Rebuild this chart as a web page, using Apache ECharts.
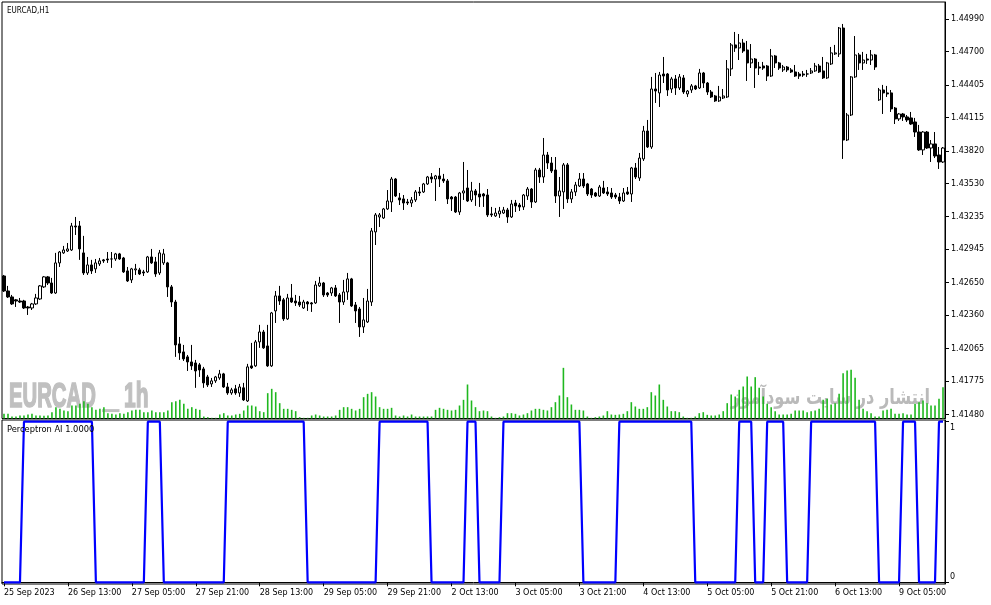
<!DOCTYPE html>
<html>
<head>
<meta charset="utf-8">
<script src="https://cdn.jsdelivr.net/npm/echarts@6.0.0/dist/echarts.min.js"></script>
<style>
html,body{margin:0;padding:0;background:#fff;}
#chart{width:991px;height:605px;}
</style>
</head>
<body>
<div id="chart"></div>
<script>
const symbolTitle = 'EURCAD,H1';
const indicatorTitle = 'Perceptron AI 1.0000';
const priceTicks = [1.41480,1.41775,1.42065,1.42360,1.42650,1.42945,1.43235,1.43530,1.43820,1.44115,1.44405,1.44700,1.44990];
const xTickLabels = ['25 Sep 2023','26 Sep 13:00','27 Sep 05:00','27 Sep 21:00','28 Sep 13:00','29 Sep 05:00','29 Sep 21:00','2 Oct 13:00','3 Oct 05:00','3 Oct 21:00','4 Oct 13:00','5 Oct 05:00','5 Oct 21:00','6 Oct 13:00','9 Oct 05:00'];

const open = [
1.42709,1.42576,1.42523,1.42497,1.42487,1.42487,1.42434,1.42425,1.42461,1.42505,
1.42612,1.42701,1.42647,1.42558,1.42825,1.42914,1.42931,1.42940,1.43153,1.43153,
1.42914,1.42736,1.42807,1.42772,1.42816,1.42852,1.42860,1.42860,1.42860,1.42905,
1.42869,1.42754,1.42674,1.42763,1.42763,1.42745,1.42745,1.42878,1.42834,1.42736,
1.42825,1.42825,1.42612,1.42478,1.42106,1.42035,1.41991,1.41946,1.41937,1.41920,
1.41884,1.41813,1.41751,1.41778,1.41804,1.41840,1.41724,1.41671,1.41707,1.41671,
1.41716,1.41600,1.41911,1.41911,1.42124,1.42212,1.42088,1.41911,1.42399,1.42532,
1.42497,1.42328,1.42514,1.42487,1.42478,1.42425,1.42478,1.42470,1.42470,1.42621,
1.42647,1.42558,1.42558,1.42603,1.42541,1.42478,1.42567,1.42683,1.42452,1.42416,
1.42257,1.42301,1.42478,1.43100,1.43233,1.43224,1.43304,1.43366,1.43570,1.43402,
1.43393,1.43366,1.43357,1.43384,1.43455,1.43455,1.43526,1.43588,1.43570,1.43597,
1.43570,1.43553,1.43410,1.43410,1.43277,1.43446,1.43490,1.43384,1.43464,1.43437,
1.43437,1.43428,1.43260,1.43242,1.43260,1.43268,1.43295,1.43233,1.43357,1.43339,
1.43322,1.43419,1.43481,1.43366,1.43650,1.43588,1.43783,1.43712,1.43650,1.43419,
1.43455,1.43695,1.43393,1.43455,1.43508,1.43570,1.43526,1.43481,1.43446,1.43419,
1.43490,1.43455,1.43446,1.43428,1.43410,1.43375,1.43455,1.43437,1.43668,1.43579,
1.43748,1.43996,1.43854,1.44369,1.44334,1.44502,1.44502,1.44369,1.44458,1.44378,
1.44467,1.44325,1.44360,1.44396,1.44378,1.44511,1.44422,1.44342,1.44307,1.44263,
1.44289,1.44298,1.44547,1.44760,1.44733,1.44777,1.44715,1.44600,1.44635,1.44564,
1.44573,1.44573,1.44484,1.44662,1.44600,1.44538,1.44564,1.44538,1.44520,1.44502,
1.44502,1.44502,1.44511,1.44529,1.44573,1.44529,1.44467,1.44591,1.44680,1.44680,
1.44910,1.43916,1.44138,1.44476,1.44671,1.44600,1.44635,1.44626,1.44671,1.44272,
1.44360,1.44334,1.44334,1.44200,1.44103,1.44147,1.44121,1.44112,1.44076,1.43987,
1.43828,1.43987,1.43845,1.43881,1.43783,1.43721];

const close = [
1.42576,1.42523,1.42461,1.42487,1.42478,1.42425,1.42425,1.42461,1.42514,1.42621,
1.42701,1.42647,1.42558,1.42825,1.42922,1.42940,1.42949,1.43153,1.43144,1.42949,
1.42736,1.42807,1.42754,1.42825,1.42843,1.42843,1.42852,1.42860,1.42905,1.42860,
1.42745,1.42665,1.42772,1.42772,1.42727,1.42736,1.42878,1.42825,1.42727,1.42914,
1.42905,1.42612,1.42478,1.42097,1.42026,1.41973,1.41946,1.41911,1.41866,1.41875,
1.41760,1.41742,1.41778,1.41813,1.41840,1.41724,1.41671,1.41698,1.41671,1.41724,
1.41609,1.41902,1.41893,1.42124,1.42212,1.42071,1.41911,1.42381,1.42532,1.42487,
1.42328,1.42514,1.42478,1.42470,1.42452,1.42478,1.42461,1.42461,1.42629,1.42647,
1.42541,1.42541,1.42603,1.42532,1.42478,1.42567,1.42683,1.42443,1.42399,1.42257,
1.42319,1.42487,1.43109,1.43251,1.43251,1.43304,1.43375,1.43570,1.43419,1.43384,
1.43357,1.43357,1.43384,1.43455,1.43446,1.43526,1.43588,1.43570,1.43597,1.43570,
1.43553,1.43393,1.43393,1.43277,1.43446,1.43464,1.43375,1.43464,1.43428,1.43410,
1.43419,1.43251,1.43251,1.43268,1.43286,1.43295,1.43233,1.43348,1.43331,1.43322,
1.43428,1.43481,1.43366,1.43650,1.43588,1.43783,1.43712,1.43641,1.43419,1.43464,
1.43695,1.43393,1.43455,1.43517,1.43570,1.43508,1.43437,1.43428,1.43419,1.43499,
1.43446,1.43437,1.43410,1.43410,1.43375,1.43446,1.43437,1.43668,1.43588,1.43756,
1.43996,1.43854,1.44369,1.44351,1.44493,1.44484,1.44360,1.44458,1.44378,1.44476,
1.44342,1.44351,1.44396,1.44369,1.44511,1.44422,1.44342,1.44298,1.44263,1.44298,
1.44307,1.44547,1.44760,1.44733,1.44777,1.44706,1.44600,1.44635,1.44555,1.44555,
1.44555,1.44484,1.44662,1.44600,1.44555,1.44564,1.44538,1.44520,1.44484,1.44484,
1.44493,1.44502,1.44529,1.44573,1.44520,1.44467,1.44600,1.44689,1.44689,1.44910,
1.43916,1.44138,1.44476,1.44671,1.44600,1.44626,1.44626,1.44671,1.44564,1.44360,
1.44334,1.44325,1.44192,1.44103,1.44147,1.44121,1.44094,1.44058,1.43987,1.43828,
1.43987,1.43845,1.43881,1.43774,1.43721,1.43845];

const high = [
1.42718,1.42621,1.42541,1.42505,1.42514,1.42497,1.42443,1.42470,1.42550,1.42629,
1.42709,1.42709,1.42692,1.42914,1.42931,1.42976,1.43002,1.43180,1.43233,1.43197,
1.43065,1.42878,1.42852,1.42860,1.42869,1.42860,1.42922,1.42922,1.42914,1.42914,
1.42878,1.42789,1.42781,1.42816,1.42781,1.42763,1.42887,1.42949,1.42878,1.42940,
1.42949,1.42834,1.42629,1.42497,1.42168,1.42097,1.42008,1.42097,1.41964,1.41937,
1.41902,1.41831,1.41804,1.41822,1.41875,1.41849,1.41760,1.41716,1.41742,1.41751,
1.41760,1.41929,1.42115,1.42141,1.42275,1.42230,1.42275,1.42390,1.42576,1.42621,
1.42514,1.42550,1.42638,1.42541,1.42532,1.42497,1.42487,1.42478,1.42665,1.42701,
1.42656,1.42567,1.42612,1.42629,1.42558,1.42674,1.42736,1.42692,1.42478,1.42434,
1.42514,1.42594,1.43135,1.43268,1.43268,1.43313,1.43472,1.43588,1.43579,1.43446,
1.43428,1.43393,1.43410,1.43472,1.43499,1.43535,1.43597,1.43623,1.43606,1.43668,
1.43615,1.43570,1.43419,1.43419,1.43455,1.43721,1.43650,1.43544,1.43481,1.43535,
1.43446,1.43481,1.43322,1.43313,1.43322,1.43322,1.43313,1.43384,1.43384,1.43357,
1.43437,1.43499,1.43490,1.43668,1.43668,1.43934,1.43810,1.43765,1.43765,1.43588,
1.43712,1.43712,1.43481,1.43544,1.43623,1.43623,1.43535,1.43490,1.43455,1.43517,
1.43553,1.43499,1.43490,1.43446,1.43446,1.43490,1.43499,1.43677,1.43712,1.43801,
1.44041,1.44094,1.44476,1.44511,1.44520,1.44653,1.44511,1.44476,1.44493,1.44502,
1.44493,1.44360,1.44413,1.44405,1.44547,1.44520,1.44431,1.44360,1.44316,1.44396,
1.44369,1.44626,1.44777,1.44875,1.44857,1.44813,1.44795,1.44768,1.44644,1.44609,
1.44609,1.44582,1.44724,1.44671,1.44609,1.44582,1.44573,1.44555,1.44582,1.44520,
1.44529,1.44538,1.44555,1.44600,1.44591,1.44653,1.44609,1.44742,1.44760,1.44919,
1.44946,1.44156,1.44484,1.44839,1.44689,1.44698,1.44680,1.44715,1.44680,1.44378,
1.44405,1.44396,1.44360,1.44209,1.44156,1.44156,1.44138,1.44165,1.44112,1.44050,
1.43996,1.43996,1.43916,1.43987,1.43854,1.43854];

const low = [
1.42567,1.42514,1.42452,1.42434,1.42470,1.42416,1.42363,1.42407,1.42452,1.42497,
1.42603,1.42629,1.42550,1.42550,1.42789,1.42905,1.42922,1.42931,1.43073,1.42852,
1.42718,1.42718,1.42727,1.42736,1.42798,1.42825,1.42825,1.42781,1.42843,1.42852,
1.42736,1.42656,1.42647,1.42718,1.42718,1.42709,1.42736,1.42816,1.42701,1.42718,
1.42807,1.42523,1.42434,1.41991,1.41964,1.41955,1.41866,1.41875,1.41716,1.41813,
1.41716,1.41724,1.41724,1.41760,1.41787,1.41716,1.41654,1.41654,1.41654,1.41636,
1.41600,1.41591,1.41884,1.41902,1.42071,1.42062,1.41902,1.41902,1.42292,1.42452,
1.42310,1.42319,1.42470,1.42443,1.42434,1.42416,1.42399,1.42390,1.42461,1.42612,
1.42523,1.42523,1.42532,1.42523,1.42292,1.42452,1.42497,1.42434,1.42292,1.42168,
1.42203,1.42292,1.42443,1.42984,1.43144,1.43215,1.43295,1.43277,1.43410,1.43339,
1.43295,1.43339,1.43322,1.43366,1.43419,1.43446,1.43517,1.43535,1.43375,1.43499,
1.43535,1.43348,1.43286,1.43268,1.43251,1.43384,1.43366,1.43366,1.43331,1.43322,
1.43322,1.43233,1.43233,1.43233,1.43224,1.43260,1.43180,1.43224,1.43277,1.43286,
1.43295,1.43384,1.43313,1.43357,1.43535,1.43535,1.43659,1.43623,1.43357,1.43233,
1.43304,1.43357,1.43357,1.43419,1.43499,1.43490,1.43419,1.43402,1.43410,1.43410,
1.43437,1.43419,1.43393,1.43393,1.43348,1.43366,1.43428,1.43366,1.43570,1.43553,
1.43730,1.43845,1.43837,1.44245,1.44209,1.44422,1.44307,1.44334,1.44316,1.44360,
1.44325,1.44298,1.44334,1.44360,1.44369,1.44378,1.44316,1.44289,1.44254,1.44254,
1.44280,1.44289,1.44484,1.44698,1.44626,1.44689,1.44440,1.44555,1.44378,1.44493,
1.44538,1.44440,1.44476,1.44555,1.44538,1.44520,1.44520,1.44511,1.44476,1.44458,
1.44476,1.44476,1.44502,1.44520,1.44511,1.44458,1.44458,1.44582,1.44671,1.44653,
1.43748,1.43907,1.44129,1.44467,1.44538,1.44538,1.44591,1.44582,1.44538,1.44263,
1.44147,1.44298,1.44165,1.44058,1.44085,1.44085,1.44076,1.44050,1.43943,1.43819,
1.43783,1.43837,1.43721,1.43756,1.43659,1.43712];

const tickVolume = [
140,140,60,60,90,90,120,140,90,90,
80,90,190,340,290,240,220,390,390,440,
520,440,340,260,290,340,160,140,120,160,
140,190,240,260,260,190,190,240,190,190,
190,240,490,520,560,440,290,340,290,260,
60,40,20,20,120,160,90,90,120,140,
240,390,390,360,220,190,760,890,790,460,
290,290,260,220,40,20,20,90,120,90,
60,60,60,90,260,340,340,290,240,290,
640,740,790,660,340,290,290,320,90,60,
90,60,120,60,60,60,60,60,260,320,
290,260,240,260,390,560,1020,540,340,220,
240,220,60,20,40,60,160,160,140,90,
120,160,240,290,290,260,240,340,490,690,
1520,640,420,260,260,240,60,20,40,60,
90,220,120,110,120,140,220,490,360,290,
290,340,790,690,1020,560,360,220,220,190,
60,20,20,60,160,190,110,90,90,120,
220,460,720,660,860,960,1260,960,1240,920,
660,440,340,220,120,120,120,140,240,240,
240,190,220,240,290,560,590,420,460,740,
1360,1440,1460,1220,560,290,220,160,60,60,
240,260,290,140,140,160,120,120,440,490,
540,460,390,390,590,940];

const perceptronSignal = [
0,0,0,0,0,1,1,1,1,1,
1,1,1,1,1,1,1,1,1,1,
1,1,1,0,0,0,0,0,0,0,
0,0,0,0,0,0,1,1,1,1,
0,0,0,0,0,0,0,0,0,0,
0,0,0,0,0,0,1,1,1,1,
1,1,1,1,1,1,1,1,1,1,
1,1,1,1,1,1,0,0,0,0,
0,0,0,0,0,0,0,0,0,0,
0,0,0,0,1,1,1,1,1,1,
1,1,1,1,1,1,1,0,0,0,
0,0,0,0,0,0,1,1,1,0,
0,0,0,0,0,1,1,1,1,1,
1,1,1,1,1,1,1,1,1,1,
1,1,1,1,1,0,0,0,0,0,
0,0,0,0,1,1,1,1,1,1,
1,1,1,1,1,1,1,1,1,1,
1,1,1,0,0,0,0,0,0,0,
0,0,0,0,1,1,1,1,0,0,
0,1,1,1,1,1,0,0,0,0,
0,0,1,1,1,1,1,1,1,1,
1,1,1,1,1,1,1,1,1,0,
0,0,0,0,0,1,1,1,1,0,
0,0,0,0,1,1];

// hourly bar times (forex hours, weekends skipped)
const MONTHS = ['Jan','Feb','Mar','Apr','May','Jun','Jul','Aug','Sep','Oct','Nov','Dec'];
const categories = [];
(function () {
  let t = Date.UTC(2023, 8, 25, 21);
  while (categories.length < open.length) {
    const d = new Date(t);
    const wd = d.getUTCDay();
    if (wd !== 0 && wd !== 6) {
      categories.push(d.getUTCDate() + ' ' + MONTHS[d.getUTCMonth()] + ' ' +
        String(d.getUTCHours()).padStart(2, '0') + ':00');
    }
    t += 3600000;
  }
})();

const candleData = open.map((o, i) => [o, close[i], low[i], high[i]]);

const FONT = 'DejaVu Sans';
const chart = echarts.init(document.getElementById('chart'), null, {renderer: 'canvas'});

const wm = {fill: '#c0c0c0', stroke: '#c0c0c0', lineWidth: 1.6, textAlign: 'left', textVerticalAlign: 'middle', align: 'left', verticalAlign: 'middle'};

const option = {
  animation: false,
  backgroundColor: '#ffffff',
  grid: [
    {left: 2, top: 2, width: 943, height: 416.5, show: true, borderColor: '#000', borderWidth: 1, backgroundColor: 'transparent'},
    {left: 2, top: 420, width: 943, height: 164, show: true, borderColor: '#000', borderWidth: 1, backgroundColor: 'transparent'},
    {left: 2, top: 2, width: 943, height: 416.5, show: false}
  ],
  xAxis: [
    {type: 'category', gridIndex: 0, data: categories, show: false, boundaryGap: true},
    {type: 'category', gridIndex: 1, data: categories, boundaryGap: true, position: 'bottom',
      axisLine: {show: true, lineStyle: {color: '#000', width: 1}},
      axisTick: {show: true, alignWithLabel: true, length: 4, interval: (i) => i % 16 === 0, lineStyle: {color: '#000'}},
      axisLabel: {show: true, interval: (i) => i % 16 === 0, align: 'left', margin: 5,
        formatter: (v, i) => (i % 16 === 0 ? (xTickLabels[i / 16] || '') : ''),
        fontFamily: FONT, fontSize: 8, color: '#000'},
      splitLine: {show: false}},
    {type: 'category', gridIndex: 2, data: categories, show: false, boundaryGap: true}
  ],
  yAxis: [
    {type: 'value', gridIndex: 0, position: 'right', min: 1.41444, max: 1.45141, scale: true,
      axisLine: {show: true, lineStyle: {color: '#000', width: 1}},
      axisTick: {show: true, length: 4, customValues: priceTicks, lineStyle: {color: '#000'}},
      axisLabel: {show: true, customValues: priceTicks, margin: 6, formatter: (v) => v.toFixed(5),
        fontFamily: FONT, fontSize: 8, color: '#000'},
      splitLine: {show: false}},
    {type: 'value', gridIndex: 1, position: 'right', min: -0.0106, max: 1.0106,
      axisLine: {show: true, lineStyle: {color: '#000', width: 1}},
      axisTick: {show: true, length: 4, customValues: [0, 1], lineStyle: {color: '#000'}},
      axisLabel: {show: true, customValues: [0.033, 0.961], margin: 5, formatter: (v) => (v > 0.5 ? '1' : '0'),
        fontFamily: FONT, fontSize: 8, color: '#000'},
      splitLine: {show: false}},
    {type: 'value', gridIndex: 2, min: 0, max: 12495, show: false, splitLine: {show: false}}
  ],
  graphic: [
    {type: 'text', x: 9, y: 397.5, scaleX: 0.58, z: 1, silent: true,
      style: Object.assign({text: 'EURCAD', font: 'bold 35px "Liberation Sans"'}, wm)},
    {type: 'text', x: 103, y: 397.5, scaleX: 0.8, z: 1, silent: true,
      style: Object.assign({text: '_', font: 'bold 35px "Liberation Sans"'}, wm)},
    {type: 'text', x: 124, y: 397.5, scaleX: 0.6, z: 1, silent: true,
      style: Object.assign({text: '1h', font: 'bold 35px "Liberation Sans"'}, wm)},
    {type: 'text', x: 930, y: 399, scaleX: 0.77, z: 1, silent: true,
      style: {text: 'انتشار در سایت سودآموز', font: 'bold 21px "DejaVu Sans"', fill: '#bababa', textAlign: 'right', textVerticalAlign: 'middle', align: 'right', verticalAlign: 'middle'}},
    {type: 'text', x: 7, y: 11, scaleX: 0.8, z: 5, silent: true,
      style: {text: symbolTitle, font: '9px "DejaVu Sans"', fill: '#000', textAlign: 'left', textVerticalAlign: 'middle', align: 'left', verticalAlign: 'middle'}},
    {type: 'text', x: 7, y: 430, z: 5, silent: true,
      style: {text: indicatorTitle, font: '8.3px "DejaVu Sans"', fill: '#000', textAlign: 'left', textVerticalAlign: 'middle', align: 'left', verticalAlign: 'middle'}}
  ],
  series: [
    {name: 'Volume', type: 'bar', xAxisIndex: 2, yAxisIndex: 2, data: tickVolume, barWidth: 1.6, z: 2,
      itemStyle: {color: '#1fb81f'}, silent: true},
    {name: 'EURCAD', type: 'candlestick', xAxisIndex: 0, yAxisIndex: 0, data: candleData, barWidth: 2.6, z: 3,
      itemStyle: {color: '#ffffff', color0: '#000000', borderColor: '#000000', borderColor0: '#000000', borderColorDoji: '#000000', borderWidth: 1},
      silent: true},
    {name: 'Perceptron AI', type: 'line', xAxisIndex: 1, yAxisIndex: 1, data: perceptronSignal, showSymbol: false, symbol: 'none',
      lineStyle: {color: '#0000ff', width: 2.2}, z: 3, silent: true}
  ]
};
chart.setOption(option);
</script>
</body>
</html>
